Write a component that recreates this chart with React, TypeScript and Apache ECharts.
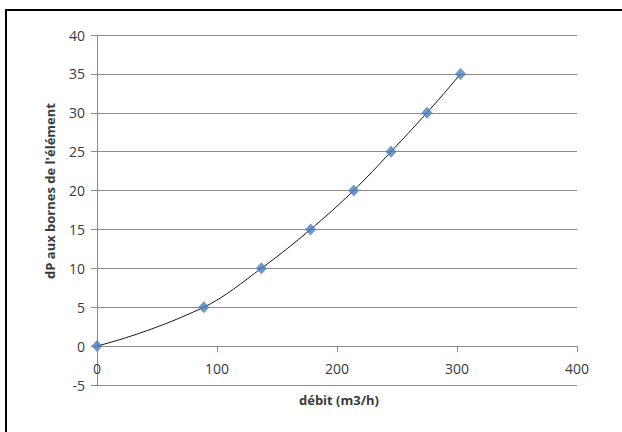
import React, { useEffect, useRef } from "react";
import * as echarts from "echarts";

const debit: number[] = [0, 89, 137, 178, 214, 245, 275, 303];
const dP: number[] = [0, 5, 10, 15, 20, 25, 30, 35];
const xAxisName = "débit (m3/h)";
const yAxisName = "dP aux bornes de l'élément";

const FONT = "'Open Sans', Lato, sans-serif";
const GRAY = "#8c8c8c";
const TEXT = "#3a3a3a";

const GRID_TOP = 35;
const GRID_BOTTOM = 47;
const H = 432;
const Y_MIN = -5;
const Y_MAX = 40;

export default function App() {
  const ref = useRef<HTMLDivElement>(null);
  useEffect(() => {
    if (!ref.current) return;
    const chart = echarts.init(ref.current, undefined, { renderer: "svg" });
    const data = debit.map((x, i) => [x, dP[i]]);
    const plotH = H - GRID_TOP - GRID_BOTTOM;
    const zeroOffset = -(plotH * (0 - Y_MIN)) / (Y_MAX - Y_MIN);

    const renderCurve = (params: any, api: any) => {
      if (params.dataIndex !== 0) return null;
      const p = data.map((d) => api.coord(d) as number[]);
      const n = p.length;
      const seg: number[] = [];
      for (let i = 0; i < n - 1; i++) {
        seg.push(Math.hypot(p[i + 1][0] - p[i][0], p[i + 1][1] - p[i][1]));
      }
      // chord-length tangents (unit-speed approx)
      const T: number[][] = p.map(() => [0, 0]);
      for (let i = 1; i < n - 1; i++) {
        const s = seg[i - 1] + seg[i];
        T[i] = [(p[i + 1][0] - p[i - 1][0]) / s, (p[i + 1][1] - p[i - 1][1]) / s];
      }
      const c0 = [(p[1][0] - p[0][0]) / seg[0], (p[1][1] - p[0][1]) / seg[0]];
      T[0] = [2 * c0[0] - T[1][0], 2 * c0[1] - T[1][1]];
      const cl = [
        (p[n - 1][0] - p[n - 2][0]) / seg[n - 2],
        (p[n - 1][1] - p[n - 2][1]) / seg[n - 2],
      ];
      T[n - 1] = [2 * cl[0] - T[n - 2][0], 2 * cl[1] - T[n - 2][1]];
      let d = `M${p[0][0]},${p[0][1]}`;
      for (let i = 0; i < n - 1; i++) {
        const L = seg[i] / 3;
        const c1x = p[i][0] + T[i][0] * L;
        const c1y = p[i][1] + T[i][1] * L;
        const c2x = p[i + 1][0] - T[i + 1][0] * L;
        const c2y = p[i + 1][1] - T[i + 1][1] * L;
        d += ` C${c1x},${c1y} ${c2x},${c2y} ${p[i + 1][0]},${p[i + 1][1]}`;
      }
      return {
        type: "path",
        shape: { pathData: d },
        style: { fill: "none", stroke: "#1a1a1a", lineWidth: 1 },
        silent: true,
      };
    };

    chart.setOption({
      animation: false,
      backgroundColor: "#ffffff",
      grid: { left: 97, right: 45, top: GRID_TOP, bottom: GRID_BOTTOM, containLabel: false },
      xAxis: {
        type: "value",
        min: 0,
        max: 400,
        interval: 100,
        position: "bottom",
        offset: zeroOffset,
        axisLine: { show: true, onZero: false, lineStyle: { color: GRAY, width: 1 } },
        axisTick: { show: true, inside: false, length: 6, lineStyle: { color: GRAY } },
        axisLabel: { color: TEXT, fontSize: 14, fontFamily: FONT, margin: 15 },
        splitLine: { show: false },
      },
      yAxis: {
        type: "value",
        min: Y_MIN,
        max: Y_MAX,
        interval: 5,
        axisLine: { show: true, onZero: false, lineStyle: { color: GRAY, width: 1 } },
        axisTick: { show: true, inside: false, length: 6, lineStyle: { color: GRAY } },
        axisLabel: { color: TEXT, fontSize: 14, fontFamily: FONT, margin: 12 },
        splitLine: { show: true, lineStyle: { color: GRAY, width: 1 } },
      },
      series: [
        {
          type: "custom",
          coordinateSystem: "cartesian2d",
          data,
          encode: { x: 0, y: 1 },
          renderItem: renderCurve,
          z: 2,
        },
        {
          type: "scatter",
          data,
          symbol: "diamond",
          symbolSize: [11, 12],
          itemStyle: { color: "#4a7ebb" },
          z: 3,
        },
      ],
      graphic: [
        {
          type: "rect",
          shape: { x: 6, y: 10, width: 640, height: 440 },
          style: { fill: "none", stroke: "#000", lineWidth: 2 },
          silent: true,
        },
        {
          type: "text",
          x: 50,
          y: 191,
          rotation: Math.PI / 2,
          style: {
            text: yAxisName,
            fill: TEXT,
            font: `bold 13px ${FONT}`,
            align: "center",
            verticalAlign: "middle",
          },
        },
        {
          type: "text",
          x: 339,
          y: 400,
          style: {
            text: xAxisName,
            fill: TEXT,
            font: `bold 13px ${FONT}`,
            align: "center",
            verticalAlign: "middle",
          },
        },
      ],
    });
    return () => chart.dispose();
  }, []);
  return (
    <div
      ref={ref}
      style={{ position: "fixed", left: 0, top: 0, width: 622, height: 432 }}
    />
  );
}
